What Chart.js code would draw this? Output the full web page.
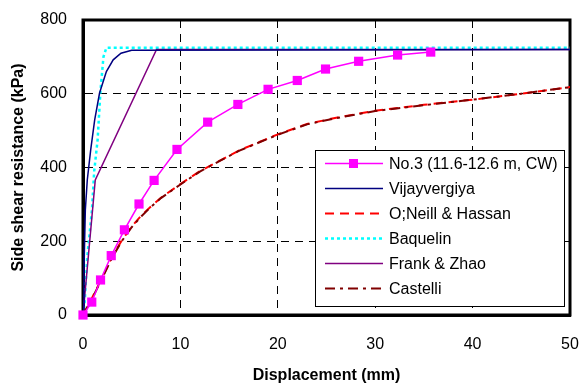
<!DOCTYPE html>
<html>
<head>
<meta charset="utf-8">
<script src="https://cdn.jsdelivr.net/npm/chart.js@4.4.0/dist/chart.umd.min.js"></script>
<style>
    html, body { margin: 0; padding: 0; background: #fff; }
    #wrap { width: 581px; height: 385px; position: relative; }
</style>
</head>
<body>
<div id="wrap"><canvas id="dataChart"></canvas></div>
<script>
// measured test: No.3 (11.6-12.6 m, CW)
const testX = [0, 0.9, 1.8, 2.9, 4.25, 5.75, 7.3, 9.65, 12.8, 15.9, 19.0, 22.0, 24.9, 28.3, 32.3, 35.7];
const testY = [0, 35, 95, 161, 231, 301, 365, 449, 523, 571, 612, 636, 667, 688, 705, 713];

const vijayX = [0, 0.1, 0.24, 0.44, 0.79, 1.2, 1.7, 2.4, 3.1, 3.9, 5.0, 50];
const vijayY = [0, 122, 285, 366, 448, 529, 602, 660, 692, 710, 718, 720];

const oneillX = [0, 1, 2, 3, 4, 5, 6, 7, 8, 10, 12, 14, 16, 18, 20, 23, 26, 30, 35, 40, 45, 50];
const oneillY = [0, 50, 103, 158, 203, 240, 270, 295, 318, 355, 390, 418, 446, 468, 490, 518, 535, 554, 570, 584, 600, 618];

const baquelinX = [0, 0.17, 0.44, 0.92, 1.15, 1.5, 1.8, 2.1, 2.4, 50];
const baquelinY = [0, 33, 158, 285, 390, 475, 610, 700, 725, 725];

const frankX = [0, 1.26, 7.55, 50];
const frankY = [0, 366, 720, 720];

const castelliX = [0, 1, 2, 3, 4, 5, 6, 7, 8, 10, 12, 14, 16, 18, 20, 23, 26, 30, 35, 40, 45, 50];
const castelliY = [0, 48, 101, 156, 201, 238, 268, 294, 317, 354, 389, 417, 445, 467, 489, 517, 534, 553, 569, 584, 600, 618];

const xTicks = [0, 10, 20, 30, 40, 50];
const yTicks = [0, 200, 400, 600, 800];

const toPoints = (xs, ys) => xs.map((x, i) => ({x: x, y: ys[i]}));

const datasets = [
    {
        label: 'No.3 (11.6-12.6 m, CW)',
        data: toPoints(testX, testY),
        borderColor: '#FF00FF',
        backgroundColor: '#FF00FF',
        borderWidth: 1.5,
        pointStyle: 'rect',
        pointRadius: 6.5,
        pointBorderWidth: 0,
        clip: false,
        order: 0
    },
    {
        label: 'Vijayvergiya',
        data: toPoints(vijayX, vijayY),
        borderColor: '#000080',
        borderWidth: 1.5,
        pointRadius: 0,
        order: 3
    },
    {
        label: 'O;Neill & Hassan',
        data: toPoints(oneillX, oneillY),
        borderColor: '#FF0000',
        borderWidth: 2,
        borderDash: [9, 6],
        pointRadius: 0,
        order: 2
    },
    {
        label: 'Baquelin',
        data: toPoints(baquelinX, baquelinY),
        borderColor: '#00FFFF',
        borderWidth: 2.5,
        borderDash: [3, 3],
        pointRadius: 0,
        order: 4
    },
    {
        label: 'Frank & Zhao',
        data: toPoints(frankX, frankY),
        borderColor: '#800080',
        borderWidth: 1.5,
        pointRadius: 0,
        order: 3
    },
    {
        label: 'Castelli',
        data: toPoints(castelliX, castelliY),
        borderColor: '#800000',
        borderWidth: 2,
        borderDash: [10, 5, 3, 5],
        pointRadius: 0,
        order: 1
    }
];

// thick black frame round the plot area
const framePlugin = {
    id: 'frame',
    beforeDatasetsDraw(chart) {
        const a = chart.chartArea;
        const ctx = chart.ctx;
        ctx.save();
        ctx.strokeStyle = '#000';
        ctx.lineWidth = 3;
        ctx.strokeRect(a.left, a.top, a.right - a.left, a.bottom - a.top);
        ctx.restore();
    }
};

// legend box sitting inside the plot, lower right
const boxLegend = {
    id: 'boxLegend',
    afterDraw(chart) {
        const ctx = chart.ctx;
        const left = 315, top = 150, w = 249, h = 156;
        ctx.save();
        ctx.fillStyle = '#fff';
        ctx.fillRect(left, top, w, h);
        ctx.strokeStyle = '#000';
        ctx.lineWidth = 1;
        ctx.strokeRect(left + 0.5, top + 0.5, w, h);
        ctx.font = '16px "Liberation Sans", Arial, sans-serif';
        ctx.textBaseline = 'middle';
        chart.data.datasets.forEach((ds, i) => {
            const y = top + 13.5 + i * 25;
            ctx.strokeStyle = ds.borderColor;
            ctx.lineWidth = ds.borderWidth;
            ctx.setLineDash(ds.borderDash || []);
            ctx.beginPath();
            ctx.moveTo(325, y);
            ctx.lineTo(383, y);
            ctx.stroke();
            ctx.setLineDash([]);
            if (ds.pointStyle === 'rect') {
                ctx.fillStyle = ds.backgroundColor;
                ctx.fillRect(349, y - 4.5, 9, 9);
            }
            ctx.fillStyle = '#000';
            ctx.fillText(ds.label, 389, y + 1);
        });
        ctx.restore();
    }
};

const tickFont = {family: '"Liberation Sans", Arial, sans-serif', size: 16};
const titleFont = {family: '"Liberation Sans", Arial, sans-serif', size: 16, weight: 'bold'};

let chart = new Chart(document.getElementById('dataChart'), {
    type: 'line',
    data: {datasets: datasets},
    plugins: [framePlugin, boxLegend],
    options: {
        responsive: true,
        maintainAspectRatio: false,
        animation: false,
        layout: {padding: {top: 20, right: 11, left: 0, bottom: 0}},
        scales: {
            x: {
                type: 'linear',
                min: 0,
                max: 50,
                afterBuildTicks: (scale) => { scale.ticks = xTicks.map(v => ({value: v})); },
                afterFit: (scale) => { scale.height = 70; scale.paddingLeft = 0; scale.paddingRight = 0; },
                ticks: {color: '#000', font: tickFont, padding: 20},
                grid: {color: '#000', lineWidth: 1, drawTicks: false},
                border: {display: true, color: '#000', width: 3, dash: [8, 6]},
                title: {display: true, text: 'Displacement (mm)', color: '#000', font: titleFont, padding: {top: 12, bottom: 0}}
            },
            y: {
                min: 0,
                max: 800,
                afterBuildTicks: (scale) => { scale.ticks = yTicks.map(v => ({value: v})); },
                afterFit: (scale) => { scale.width = 83; scale.paddingTop = 0; scale.paddingBottom = 0; },
                ticks: {color: '#000', font: tickFont, padding: 16},
                grid: {color: '#000', lineWidth: 1, drawTicks: false},
                border: {display: true, color: '#000', width: 3, dash: [8, 6]},
                title: {display: true, text: 'Side shear resistance (kPa)', color: '#000', font: titleFont, padding: {top: 9, bottom: 0}}
            }
        },
        plugins: {
            legend: {display: false},
            tooltip: {enabled: false}
        }
    }
});
</script>
</body>
</html>
